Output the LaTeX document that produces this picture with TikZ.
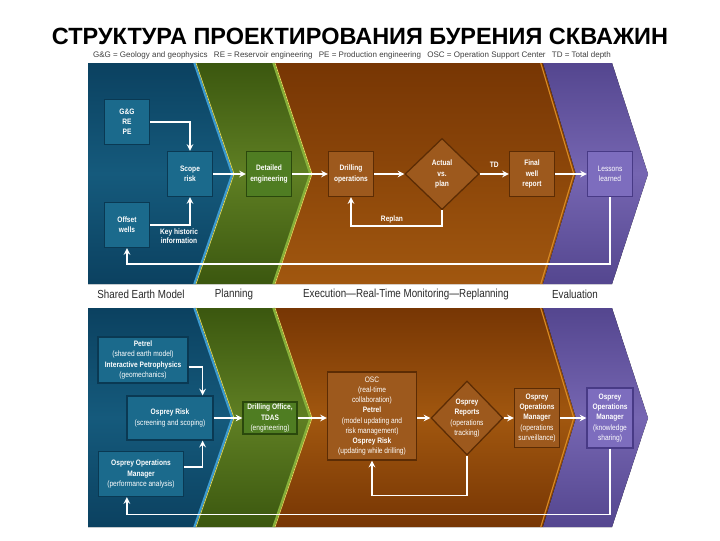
\documentclass[tikz,border=0pt]{standalone}
\usepackage{fontspec}
\setmainfont{Liberation Sans}
\newfontfamily\narrowfont[FakeStretch=0.84]{Liberation Sans}
\usetikzlibrary{arrows, shapes.geometric, positioning, calc}

\definecolor{bandblueA}{HTML}{0B4160}
\definecolor{bandblueB}{HTML}{155A7C}
\definecolor{bandgreenA}{HTML}{3B570F}
\definecolor{bandgreenB}{HTML}{5F7F23}
\definecolor{bandorangeA}{HTML}{773604}
\definecolor{bandorangeB}{HTML}{A1570F}
\definecolor{bandpurpleA}{HTML}{54468F}
\definecolor{bandpurpleB}{HTML}{7666B2}
\definecolor{stripeblue}{HTML}{3C9BD0}
\definecolor{stripegreen}{HTML}{86B03A}
\definecolor{stripeorange}{HTML}{D88A22}
\definecolor{stripeyellow}{HTML}{E3DA5A}
\definecolor{boxblue}{HTML}{1B6A8C}
\definecolor{boxblueline}{HTML}{0A3953}
\definecolor{boxgreen}{HTML}{4F7D22}
\definecolor{boxgreenline}{HTML}{2A480C}
\definecolor{boxorange}{HTML}{9D591D}
\definecolor{boxorangeline}{HTML}{5C2C04}
\definecolor{boxpurple}{HTML}{7D6DBE}
\definecolor{boxpurpleline}{HTML}{483A86}
\definecolor{phasegray}{HTML}{2A2A2A}
\definecolor{legendgray}{HTML}{404040}

\begin{document}
\begin{tikzpicture}[x=0.025cm, y=-0.025cm,
    box/.style={draw, line width=0.9pt, text=white, align=center, inner sep=1pt,
        font=\narrowfont\fontsize{5.6}{7.2}\selectfont},
    bluebox/.style={box, fill=boxblue, draw=boxblueline},
    greenbox/.style={box, fill=boxgreen, draw=boxgreenline},
    orangebox/.style={box, fill=boxorange, draw=boxorangeline},
    purplebox/.style={box, fill=boxpurple, draw=boxpurpleline},
    decision/.style={orangebox, diamond, inner sep=0pt, aspect=1},
    topsize/.style={minimum width=1.125cm, minimum height=1.125cm,
        font=\narrowfont\bfseries\fontsize{5.6}{7.2}\selectfont},
    flow/.style={->, >=stealth, white, line width=1.1pt},
    note/.style={text=white, align=center, font=\narrowfont\bfseries\fontsize{5.6}{6.6}\selectfont},
    phase/.style={text=phasegray, font=\narrowfont\fontsize{8.3}{9}\selectfont}]

    % Page and title
    \fill[white] (0,0) rectangle (720,540);
    \useasboundingbox (0,0) rectangle (720,540);
    \node[font=\bfseries\fontsize{16.7}{18}\selectfont] (title) at (360,36) {СТРУКТУРА ПРОЕКТИРОВАНИЯ БУРЕНИЯ СКВАЖИН};
    \node[text=legendgray, font=\fontsize{5.7}{6}\selectfont] (legend) at (352,55)
        {G\&G = Geology and geophysics \enspace RE = Reservoir engineering \enspace PE = Production engineering \enspace OSC = Operation Support Center \enspace TD = Total depth};

    % Upper panel: the four phase bands
    \fill[top color=bandblueA, bottom color=bandblueA, middle color=bandblueB] (88,63) -- (196,63) -- (234,174) -- (196,284) -- (88,284) -- cycle;
    \fill[top color=bandgreenA, bottom color=bandgreenA, middle color=bandgreenB] (196,63) -- (275,63) -- (312,174) -- (275,284) -- (196,284) -- (234,174) -- cycle;
    \fill[top color=bandorangeA, bottom color=bandorangeB] (275,63) -- (543,63) -- (576,174) -- (543,284) -- (275,284) -- (312,174) -- cycle;
    \fill[top color=bandpurpleA, bottom color=bandpurpleA, middle color=bandpurpleB] (543,63) -- (612,63) -- (648,174) -- (612,284) -- (543,284) -- (576,174) -- cycle;
    \draw[stripeblue, line width=1.5pt, xshift=-1.2pt] (196,63) -- (234,174) -- (196,284);
    \draw[stripeyellow, line width=0.5pt] (196,63) -- (234,174) -- (196,284);
    \draw[stripegreen, line width=1.5pt, xshift=-1.2pt] (275,63) -- (312,174) -- (275,284);
    \draw[stripeyellow, line width=0.5pt] (275,63) -- (312,174) -- (275,284);
    \draw[stripeorange, line width=0.8pt, xshift=-1.6pt] (543,63) -- (576,174) -- (543,284);

    % Lower panel: the four phase bands
    \fill[top color=bandblueA, bottom color=bandblueA, middle color=bandblueB] (88,308) -- (196,308) -- (234,418) -- (196,527) -- (88,527) -- cycle;
    \fill[top color=bandgreenA, bottom color=bandgreenA, middle color=bandgreenB] (196,308) -- (275,308) -- (312,418) -- (275,527) -- (196,527) -- (234,418) -- cycle;
    \fill[top color=bandorangeA, bottom color=bandorangeA, middle color=bandorangeB] (275,308) -- (543,308) -- (576,418) -- (543,527) -- (275,527) -- (312,418) -- cycle;
    \fill[top color=bandpurpleA, bottom color=bandpurpleA, middle color=bandpurpleB] (543,308) -- (612,308) -- (648,418) -- (612,527) -- (543,527) -- (576,418) -- cycle;
    \draw[stripeblue, line width=1.5pt, xshift=-1.2pt] (196,308) -- (234,418) -- (196,527);
    \draw[stripeyellow, line width=0.5pt] (196,308) -- (234,418) -- (196,527);
    \draw[stripegreen, line width=1.5pt, xshift=-1.2pt] (275,308) -- (312,418) -- (275,527);
    \draw[stripeyellow, line width=0.5pt] (275,308) -- (312,418) -- (275,527);
    \draw[stripeorange, line width=0.8pt, xshift=-1.6pt] (543,308) -- (576,418) -- (543,527);

    % Phase names between the panels
    \node[phase] (earth) at (141,294) {Shared Earth Model};
    \node[phase] (planning) at (234,294) {Planning};
    \node[phase] (execution) at (406,294) {Execution—Real-Time Monitoring—Replanning};
    \node[phase] (evaluation) at (575,294) {Evaluation};

    % Upper panel: steps
    \node[bluebox, topsize] (geo) at (127,122) {G\&G\\RE\\PE};
    \node[bluebox, topsize] (scope) at (190,174) {Scope\\risk};
    \node[bluebox, topsize] (offset) at (127,225) {Offset\\wells};
    \node[greenbox, topsize] (detail) at (269,174) {Detailed\\engineering};
    \node[orangebox, topsize] (drill) at (351,174) {Drilling\\operations};
    \node[decision, topsize, minimum width=1.85cm, minimum height=1.78cm] (actual) at (442,174) {Actual\\vs.\\plan};
    \node[orangebox, topsize] (final) at (532,174) {Final\\well\\report};
    \node[purplebox, topsize, font=\narrowfont\fontsize{5.6}{7.2}\selectfont] (lessons) at (610,174) {Lessons\\learned};
    \node[note] (keyinfo) at (179,236) {Key historic\\information};
    \node[note] (replan) at (392,219) {Replan};

    % Upper panel: connectors
    \draw[flow] (geo.east) -| (scope.north);
    \draw[flow] (offset.east) -| (scope.south);
    \draw[flow] (scope) -- (detail);
    \draw[flow] (detail) -- (drill);
    \draw[flow] (drill) -- (actual);
    \draw[flow] (actual) -- node[note, above=1pt] (td) {TD} (final);
    \draw[flow] (final) -- (lessons);
    \draw[flow] (actual.south) -- ++(0,16) -| (drill.south);
    \draw[flow] (lessons.south) -- ++(0,67) -| (offset.south);

    % Lower panel: tools
    \node[bluebox, minimum width=2.25cm, minimum height=1.15cm] (petrel) at (143,360)
        {\bfseries Petrel\\(shared earth model)\\\bfseries Interactive Petrophysics\\(geomechanics)};
    \node[bluebox, minimum width=2.15cm, minimum height=1.1cm] (risk) at (170,418)
        {\bfseries Osprey Risk\\(screening and scoping)};
    \node[bluebox, minimum width=2.125cm, minimum height=1.125cm] (perform) at (141,474)
        {\bfseries Osprey Operations\\\bfseries Manager\\(performance analysis)};
    \node[greenbox, minimum width=1.35cm, minimum height=0.8cm] (office) at (270,418)
        {\bfseries Drilling Office,\\\bfseries TDAS\\(engineering)};
    \node[orangebox, minimum width=2.225cm, minimum height=2.2cm] (osc) at (372,416)
        {OSC\\(real-time\\collaboration)\\\bfseries Petrel\\(model updating and\\risk management)\\\bfseries Osprey Risk\\(updating while drilling)};
    \node[decision, minimum width=1.8cm, minimum height=1.85cm] (reports) at (467,418)
        {\bfseries Osprey\\\bfseries Reports\\(operations\\tracking)};
    \node[orangebox, minimum width=1.125cm, minimum height=1.475cm] (watch) at (537,418)
        {\bfseries Osprey\\\bfseries Operations\\\bfseries Manager\\(operations\\surveillance)};
    \node[purplebox, minimum width=1.15cm, minimum height=1.5cm] (share) at (610,418)
        {\bfseries Osprey\\\bfseries Operations\\\bfseries Manager\\(knowledge\\sharing)};

    % Lower panel: connectors
    \draw[flow] ([yshift=-5pt]petrel.east) -| ($(risk.north east)+(-11,0)$);
    \draw[flow] ([yshift=5pt]perform.east) -| ($(risk.south east)+(-11,0)$);
    \draw[flow] (risk) -- (office);
    \draw[flow] (office) -- (office -| osc.west);
    \draw[flow] (osc.east |- reports) -- (reports);
    \draw[flow] (reports) -- (watch);
    \draw[flow] (watch) -- (share);
    \draw[flow] (reports.south) -- ++(0,40) -| (osc.south);
    \draw[flow] (share.south) -- ++(0,66) -| ($(perform.south west)+(29,0)$);
\end{tikzpicture}
\end{document}
